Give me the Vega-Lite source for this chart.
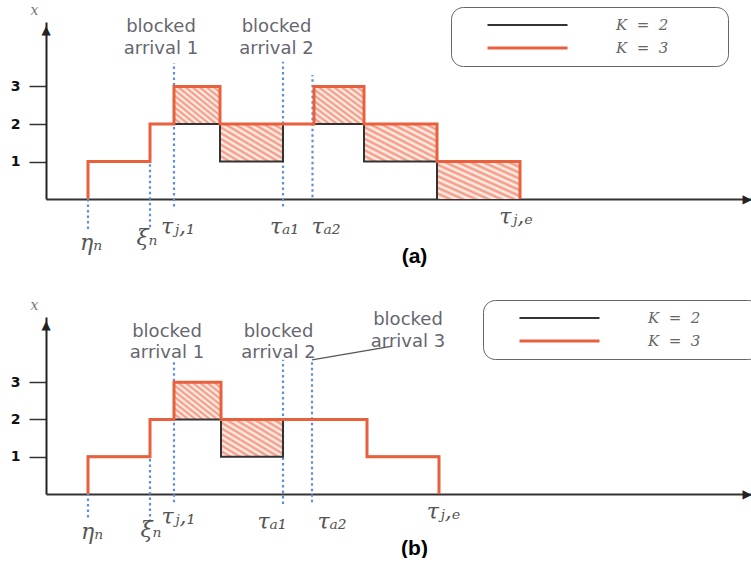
{
  "$schema": "https://vega.github.io/schema/vega-lite/v6.json",
  "padding": {"left": 10, "top": 3, "right": 0, "bottom": 0},
  "bounds": "flush",
  "spacing": 118,
  "background": "white",
  "datasets": {
    "steps": [
      {"panel": "a", "K": "K = 2", "i": 0, "t": 4.2, "v": 0},
      {"panel": "a", "K": "K = 2", "i": 1, "t": 4.2, "v": 1},
      {"panel": "a", "K": "K = 2", "i": 2, "t": 10.4, "v": 2},
      {"panel": "a", "K": "K = 2", "i": 3, "t": 17.4, "v": 1},
      {"panel": "a", "K": "K = 2", "i": 4, "t": 23.7, "v": 2},
      {"panel": "a", "K": "K = 2", "i": 5, "t": 31.8, "v": 1},
      {"panel": "a", "K": "K = 2", "i": 6, "t": 39.1, "v": 0},
      {"panel": "a", "K": "K = 3", "i": 0, "t": 4.2, "v": 0},
      {"panel": "a", "K": "K = 3", "i": 1, "t": 4.2, "v": 1},
      {"panel": "a", "K": "K = 3", "i": 2, "t": 10.4, "v": 2},
      {"panel": "a", "K": "K = 3", "i": 3, "t": 12.8, "v": 3},
      {"panel": "a", "K": "K = 3", "i": 4, "t": 17.4, "v": 2},
      {"panel": "a", "K": "K = 3", "i": 5, "t": 26.8, "v": 3},
      {"panel": "a", "K": "K = 3", "i": 6, "t": 31.8, "v": 2},
      {"panel": "a", "K": "K = 3", "i": 7, "t": 39.1, "v": 1},
      {"panel": "a", "K": "K = 3", "i": 8, "t": 47.4, "v": 0},
      {"panel": "b", "K": "K = 2", "i": 0, "t": 4.2, "v": 0},
      {"panel": "b", "K": "K = 2", "i": 1, "t": 4.2, "v": 1},
      {"panel": "b", "K": "K = 2", "i": 2, "t": 10.4, "v": 2},
      {"panel": "b", "K": "K = 2", "i": 3, "t": 17.5, "v": 1},
      {"panel": "b", "K": "K = 2", "i": 4, "t": 23.7, "v": 2},
      {"panel": "b", "K": "K = 2", "i": 5, "t": 32.1, "v": 1},
      {"panel": "b", "K": "K = 2", "i": 6, "t": 39.3, "v": 0},
      {"panel": "b", "K": "K = 3", "i": 0, "t": 4.2, "v": 0},
      {"panel": "b", "K": "K = 3", "i": 1, "t": 4.2, "v": 1},
      {"panel": "b", "K": "K = 3", "i": 2, "t": 10.4, "v": 2},
      {"panel": "b", "K": "K = 3", "i": 3, "t": 12.8, "v": 3},
      {"panel": "b", "K": "K = 3", "i": 4, "t": 17.5, "v": 2},
      {"panel": "b", "K": "K = 3", "i": 5, "t": 32.1, "v": 1},
      {"panel": "b", "K": "K = 3", "i": 6, "t": 39.3, "v": 0}
    ],
    "hatch": [
      {"panel": "a", "t": 12.8, "t2": 17.4, "v": 2, "v2": 3},
      {"panel": "a", "t": 17.4, "t2": 23.7, "v": 1, "v2": 2},
      {"panel": "a", "t": 26.8, "t2": 31.8, "v": 2, "v2": 3},
      {"panel": "a", "t": 31.8, "t2": 39.1, "v": 1, "v2": 2},
      {"panel": "a", "t": 39.1, "t2": 47.4, "v": 0, "v2": 1},
      {"panel": "b", "t": 12.8, "t2": 17.5, "v": 2, "v2": 3},
      {"panel": "b", "t": 17.5, "t2": 23.7, "v": 1, "v2": 2}
    ],
    "guides": [
      {"panel": "a", "t": 4.2, "v": -0.8, "v2": 0},
      {"panel": "a", "t": 10.4, "v": -0.75, "v2": 1},
      {"panel": "a", "t": 12.8, "v": -0.2, "v2": 3.63},
      {"panel": "a", "t": 23.7, "v": -0.2, "v2": 3.66},
      {"panel": "a", "t": 26.65, "v": 0.05, "v2": 3.31},
      {"panel": "b", "t": 4.2, "v": -0.63, "v2": 0.3},
      {"panel": "b", "t": 10.4, "v": -0.75, "v2": 1},
      {"panel": "b", "t": 12.8, "v": -0.22, "v2": 3.6},
      {"panel": "b", "t": 23.7, "v": -0.27, "v2": 3.6},
      {"panel": "b", "t": 26.6, "v": -0.22, "v2": 3.6}
    ],
    "notes": [
      {"panel": "a", "t": 11.5, "v": 4.59, "text": "blocked"},
      {"panel": "a", "t": 11.5, "v": 4.0, "text": "arrival 1"},
      {"panel": "a", "t": 23.05, "v": 4.59, "text": "blocked"},
      {"panel": "a", "t": 23.05, "v": 4.0, "text": "arrival 2"},
      {"panel": "b", "t": 12.1, "v": 4.36, "text": "blocked"},
      {"panel": "b", "t": 12.1, "v": 3.79, "text": "arrival 1"},
      {"panel": "b", "t": 23.25, "v": 4.36, "text": "blocked"},
      {"panel": "b", "t": 23.25, "v": 3.79, "text": "arrival 2"},
      {"panel": "b", "t": 36.2, "v": 4.68, "text": "blocked"},
      {"panel": "b", "t": 36.2, "v": 4.09, "text": "arrival 3"}
    ],
    "symbols": [
      {"panel": "a", "t": 4.5, "v": -1.17, "text": "ηₙ"},
      {"panel": "a", "t": 10.1, "v": -1.04, "text": "ξₙ"},
      {"panel": "a", "t": 13.2, "v": -0.74, "text": "τⱼ,₁"},
      {"panel": "a", "t": 23.85, "v": -0.74, "text": "τₐ₁"},
      {"panel": "a", "t": 28.0, "v": -0.74, "text": "τₐ₂"},
      {"panel": "a", "t": 47.0, "v": -0.48, "text": "τⱼ,ₑ"},
      {"panel": "b", "t": 4.6, "v": -1.03, "text": "ηₙ"},
      {"panel": "b", "t": 10.5, "v": -0.97, "text": "ξₙ"},
      {"panel": "b", "t": 13.25, "v": -0.63, "text": "τⱼ,₁"},
      {"panel": "b", "t": 22.6, "v": -0.76, "text": "τₐ₁"},
      {"panel": "b", "t": 28.6, "v": -0.76, "text": "τₐ₂"},
      {"panel": "b", "t": 39.75, "v": -0.47, "text": "τⱼ,ₑ"}
    ],
    "leader": [
      {"panel": "b", "i": 0, "t": 26.6, "v": 3.6},
      {"panel": "b", "i": 1, "t": 34.5, "v": 3.96}
    ],
    "axisEnds": [
      {"panel": "a", "end": "top", "glyph": "▲", "t": 0, "v": 4.5},
      {"panel": "a", "end": "right", "glyph": "▶", "t": 70.1, "v": 0},
      {"panel": "b", "end": "top", "glyph": "▲", "t": 0, "v": 4.53},
      {"panel": "b", "end": "right", "glyph": "▶", "t": 70.1, "v": 0}
    ]
  },
  "vconcat": [
    {
      "width": 705,
      "height": 177,
      "encoding": {
        "x": {"field": "t", "type": "quantitative", "scale": {"domain": [0, 70.5], "nice": false, "zero": false}, "axis": {"title": "(a)", "titleX": 368, "titleY": 57, "ticks": false, "labels": false}},
        "y": {"field": "v", "type": "quantitative", "scale": {"domain": [0, 4.72], "nice": false, "zero": false}, "axis": {"title": "x", "values": [1, 2, 3], "tickSize": 17, "labelPadding": 9}}
      },
      "layer": [
        {
          "data": {"name": "hatch"},
          "transform": [{"filter": "datum.panel === 'a'"}],
          "mark": {"type": "rect", "fill": {"gradient": "linear", "x1": 0, "y1": 1, "x2": 1, "y2": 0, "stops": [
            {"offset": 0, "color": "#f2927a"}, {"offset": 0.0385, "color": "#fff8f5"},
            {"offset": 0.0769, "color": "#f2927a"}, {"offset": 0.1154, "color": "#fff8f5"},
            {"offset": 0.1538, "color": "#f2927a"}, {"offset": 0.1923, "color": "#fff8f5"},
            {"offset": 0.2308, "color": "#f2927a"}, {"offset": 0.2692, "color": "#fff8f5"},
            {"offset": 0.3077, "color": "#f2927a"}, {"offset": 0.3462, "color": "#fff8f5"},
            {"offset": 0.3846, "color": "#f2927a"}, {"offset": 0.4231, "color": "#fff8f5"},
            {"offset": 0.4615, "color": "#f2927a"}, {"offset": 0.5, "color": "#fff8f5"},
            {"offset": 0.5385, "color": "#f2927a"}, {"offset": 0.5769, "color": "#fff8f5"},
            {"offset": 0.6154, "color": "#f2927a"}, {"offset": 0.6538, "color": "#fff8f5"},
            {"offset": 0.6923, "color": "#f2927a"}, {"offset": 0.7308, "color": "#fff8f5"},
            {"offset": 0.7692, "color": "#f2927a"}, {"offset": 0.8077, "color": "#fff8f5"},
            {"offset": 0.8462, "color": "#f2927a"}, {"offset": 0.8846, "color": "#fff8f5"},
            {"offset": 0.9231, "color": "#f2927a"}, {"offset": 0.9615, "color": "#fff8f5"},
            {"offset": 1, "color": "#f2927a"}]}},
          "encoding": {"x2": {"field": "t2"}, "y2": {"field": "v2"}}
        },
        {
          "data": {"name": "guides"},
          "transform": [{"filter": "datum.panel === 'a'"}],
          "mark": {"type": "rule", "color": "#5f90d6", "strokeWidth": 2.2, "strokeDash": [2.5, 3]},
          "encoding": {"y2": {"field": "v2"}}
        },
        {
          "data": {"name": "steps"},
          "transform": [{"filter": "datum.panel === 'a'"}],
          "mark": {"type": "line", "interpolate": "step-after"},
          "encoding": {
            "color": {"field": "K", "type": "nominal", "scale": {"domain": ["K = 2", "K = 3"], "range": ["#333333", "#e8603c"]},
              "legend": {"orient": "none", "legendX": 405, "legendY": -15, "title": "\u00a0", "titleOrient": "right", "titlePadding": 50, "titleFontSize": 8,
                "labelExpr": "replace(datum.label, regexp(' ', 'g'), '\u00a0\u00a0')"}},
            "strokeWidth": {"field": "K", "type": "nominal", "scale": {"domain": ["K = 2", "K = 3"], "range": [2, 3]}, "legend": null},
            "order": {"field": "i", "type": "quantitative"}
          }
        },
        {
          "data": {"name": "notes"},
          "transform": [{"filter": "datum.panel === 'a'"}],
          "mark": {"type": "text", "font": "DejaVu Sans", "fontSize": 18, "color": "#666670", "align": "center", "baseline": "middle"},
          "encoding": {"text": {"field": "text"}}
        },
        {
          "data": {"name": "symbols"},
          "transform": [{"filter": "datum.panel === 'a'"}],
          "mark": {"type": "text", "font": "DejaVu Serif", "fontStyle": "italic", "fontSize": 22, "color": "#555555", "align": "center", "baseline": "middle"},
          "encoding": {"text": {"field": "text"}}
        },
        {
          "data": {"name": "axisEnds"},
          "transform": [{"filter": "datum.panel === 'a'"}],
          "mark": {"type": "text", "font": "DejaVu Sans", "fontSize": 12, "color": "#222222", "align": "center", "baseline": "middle", "zindex": 2},
          "encoding": {"text": {"field": "glyph"}}
        },
        {
          "data": {"values": [{}]},
          "mark": {"type": "text", "text": "t", "font": "DejaVu Serif", "fontStyle": "italic", "fontSize": 13, "color": "#888888", "align": "left", "baseline": "middle"},
          "encoding": {"x": {"datum": 70.3, "type": "quantitative"}, "y": {"datum": -0.37, "type": "quantitative"}}
        }
      ]
    },
    {
      "width": 705,
      "height": 177,
      "encoding": {
        "x": {"field": "t", "type": "quantitative", "scale": {"domain": [0, 70.5], "nice": false, "zero": false}, "axis": {"title": "(b)", "titleX": 368, "titleY": 54, "ticks": false, "labels": false}},
        "y": {"field": "v", "type": "quantitative", "scale": {"domain": [0, 4.75], "nice": false, "zero": false}, "axis": {"title": "x", "values": [1, 2, 3], "tickSize": 17, "labelPadding": 9}}
      },
      "layer": [
        {
          "data": {"name": "hatch"},
          "transform": [{"filter": "datum.panel === 'b'"}],
          "mark": {"type": "rect", "fill": {"gradient": "linear", "x1": 0, "y1": 1, "x2": 1, "y2": 0, "stops": [
            {"offset": 0, "color": "#f2927a"}, {"offset": 0.0385, "color": "#fff8f5"},
            {"offset": 0.0769, "color": "#f2927a"}, {"offset": 0.1154, "color": "#fff8f5"},
            {"offset": 0.1538, "color": "#f2927a"}, {"offset": 0.1923, "color": "#fff8f5"},
            {"offset": 0.2308, "color": "#f2927a"}, {"offset": 0.2692, "color": "#fff8f5"},
            {"offset": 0.3077, "color": "#f2927a"}, {"offset": 0.3462, "color": "#fff8f5"},
            {"offset": 0.3846, "color": "#f2927a"}, {"offset": 0.4231, "color": "#fff8f5"},
            {"offset": 0.4615, "color": "#f2927a"}, {"offset": 0.5, "color": "#fff8f5"},
            {"offset": 0.5385, "color": "#f2927a"}, {"offset": 0.5769, "color": "#fff8f5"},
            {"offset": 0.6154, "color": "#f2927a"}, {"offset": 0.6538, "color": "#fff8f5"},
            {"offset": 0.6923, "color": "#f2927a"}, {"offset": 0.7308, "color": "#fff8f5"},
            {"offset": 0.7692, "color": "#f2927a"}, {"offset": 0.8077, "color": "#fff8f5"},
            {"offset": 0.8462, "color": "#f2927a"}, {"offset": 0.8846, "color": "#fff8f5"},
            {"offset": 0.9231, "color": "#f2927a"}, {"offset": 0.9615, "color": "#fff8f5"},
            {"offset": 1, "color": "#f2927a"}]}},
          "encoding": {"x2": {"field": "t2"}, "y2": {"field": "v2"}}
        },
        {
          "data": {"name": "guides"},
          "transform": [{"filter": "datum.panel === 'b'"}],
          "mark": {"type": "rule", "color": "#5f90d6", "strokeWidth": 2.2, "strokeDash": [2.5, 3]},
          "encoding": {"y2": {"field": "v2"}}
        },
        {
          "data": {"name": "steps"},
          "transform": [{"filter": "datum.panel === 'b'"}],
          "mark": {"type": "line", "interpolate": "step-after"},
          "encoding": {
            "color": {"field": "K", "type": "nominal", "scale": {"domain": ["K = 2", "K = 3"], "range": ["#333333", "#e8603c"]},
              "legend": {"orient": "none", "legendX": 437, "legendY": -17, "title": "\u00a0", "titleOrient": "right", "titlePadding": 50, "titleFontSize": 8,
                "labelExpr": "replace(datum.label, regexp(' ', 'g'), '\u00a0\u00a0')"}},
            "strokeWidth": {"field": "K", "type": "nominal", "scale": {"domain": ["K = 2", "K = 3"], "range": [2, 3]}, "legend": null},
            "order": {"field": "i", "type": "quantitative"}
          }
        },
        {
          "data": {"name": "leader"},
          "transform": [{"filter": "datum.panel === 'b'"}],
          "mark": {"type": "line", "color": "#555555", "strokeWidth": 1.3},
          "encoding": {"order": {"field": "i", "type": "quantitative"}}
        },
        {
          "data": {"name": "notes"},
          "transform": [{"filter": "datum.panel === 'b'"}],
          "mark": {"type": "text", "font": "DejaVu Sans", "fontSize": 18, "color": "#666670", "align": "center", "baseline": "middle"},
          "encoding": {"text": {"field": "text"}}
        },
        {
          "data": {"name": "symbols"},
          "transform": [{"filter": "datum.panel === 'b'"}],
          "mark": {"type": "text", "font": "DejaVu Serif", "fontStyle": "italic", "fontSize": 22, "color": "#555555", "align": "center", "baseline": "middle"},
          "encoding": {"text": {"field": "text"}}
        },
        {
          "data": {"name": "axisEnds"},
          "transform": [{"filter": "datum.panel === 'b'"}],
          "mark": {"type": "text", "font": "DejaVu Sans", "fontSize": 12, "color": "#222222", "align": "center", "baseline": "middle", "zindex": 2},
          "encoding": {"text": {"field": "glyph"}}
        },
        {
          "data": {"values": [{}]},
          "mark": {"type": "text", "text": "t", "font": "DejaVu Serif", "fontStyle": "italic", "fontSize": 13, "color": "#888888", "align": "left", "baseline": "middle"},
          "encoding": {"x": {"datum": 70.3, "type": "quantitative"}, "y": {"datum": -0.37, "type": "quantitative"}}
        }
      ]
    }
  ],
  "resolve": {
    "scale": {"x": "independent", "y": "independent", "color": "independent", "strokeWidth": "independent"},
    "legend": {"color": "independent"}
  },
  "config": {
    "view": {"stroke": null},
    "axisX": {
      "domain": true, "domainColor": "#333333", "domainWidth": 2, "ticks": false, "labels": false, "grid": false,
      "titleFont": "Liberation Sans", "titleFontSize": 21, "titleFontWeight": "bold", "titleColor": "#000000",
      "titleBaseline": "middle", "titleAlign": "center"
    },
    "axisY": {
      "domain": true, "domainColor": "#222222", "domainWidth": 2, "ticks": true, "tickSize": 17, "tickColor": "#333333", "tickWidth": 1.5,
      "grid": false, "labelPadding": 9, "labelFont": "DejaVu Sans", "labelFontWeight": "bold", "labelFontSize": 14, "labelColor": "#111111",
      "titleAngle": 0, "titleX": -12, "titleY": -12, "titleFont": "DejaVu Serif", "titleFontStyle": "italic", "titleFontWeight": "normal",
      "titleFontSize": 14, "titleColor": "#777777", "titleAlign": "center", "titleBaseline": "middle"
    },
    "legend": {
      "symbolType": "stroke", "symbolSize": 6400, "symbolStrokeWidth": 1.6, "clipHeight": 16, "rowPadding": 7,
      "padding": 10, "symbolOffset": 25, "labelOffset": 47,
      "labelFont": "DejaVu Serif", "labelFontStyle": "italic", "labelFontSize": 15, "labelColor": "#666666",
      "strokeColor": "#666666", "cornerRadius": 12, "fillColor": "#ffffff"
    }
  }
}
